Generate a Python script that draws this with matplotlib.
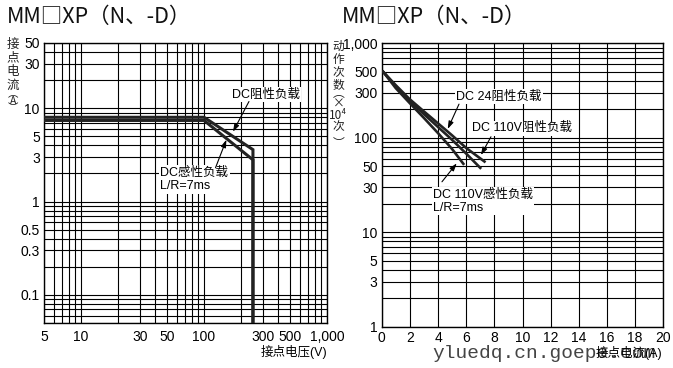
import matplotlib
matplotlib.use('Agg')
import matplotlib.pyplot as plt
from matplotlib.ticker import FixedLocator, NullFormatter, LogLocator, FixedFormatter

plt.rcParams['font.family'] = ['Liberation Sans', 'Noto Sans CJK SC']
plt.rcParams['axes.unicode_minus'] = False

# ---------------- left chart data (contact voltage vs contact current) -------------
volt_res = [5, 100, 250, 250]
amp_res = [8.0, 8.0, 3.6, 0.05]
volt_ind = [5, 100, 250, 250]
amp_ind = [7.4, 7.4, 2.8, 0.05]
left_xticks = [5, 10, 30, 50, 100, 300, 500, 1000]
left_xlabels = ['5', '10', '30', '50', '100', '300', '500', '1,000']
left_yticks = [0.1, 0.3, 0.5, 1, 3, 5, 10, 30, 50]
left_ylabels = ['0.1', '0.3', '0.5', '1', '3', '5', '10', '30', '50']

# ---------------- right chart data (contact current vs operations x10^4) -----------
cur_a = [0.1, 1, 2, 3, 4, 5, 6, 7.3]
ops_a = [500, 360, 255, 190, 142, 106, 78, 56]
cur_b = [0.1, 1, 2, 3, 4, 5, 6, 7.0]
ops_b = [500, 350, 245, 178, 130, 95, 68, 48]
cur_c = [0.1, 1, 2, 3, 4, 5, 5.8]
ops_c = [500, 335, 232, 162, 112, 76, 53]
right_xticks = [0, 2, 4, 6, 8, 10, 12, 14, 16, 18, 20]
right_yticks = [1, 3, 5, 10, 30, 50, 100, 300, 500, 1000]
right_ylabels = ['1', '3', '5', '10', '30', '50', '100', '300', '500', '1,000']

W, H = 673, 368
fig = plt.figure(figsize=(W / 100, H / 100), dpi=100)
fig.patch.set_facecolor('white')


def fx(px):
    return px / W


def fy(py):
    return 1 - py / H


axL = fig.add_axes([fx(44), fy(323), fx(327) - fx(44), fy(43) - fy(323)])
axR = fig.add_axes([fx(381.7), fy(326.7), fx(663.3) - fx(381.7), fy(43.3) - fy(326.7)])

for ax in (axL, axR):
    ax.set_facecolor('white')
    for s in ax.spines.values():
        s.set_linewidth(1.0)
        s.set_color('black')
    ax.tick_params(which='both', length=0, labelsize=10, colors='black')

# ---- left axes
axL.set_xscale('log')
axL.set_yscale('log')
axL.set_xlim(5, 1000)
axL.set_ylim(0.05, 50)
axL.xaxis.set_major_locator(FixedLocator(left_xticks))
axL.xaxis.set_major_formatter(FixedFormatter(left_xlabels))
axL.yaxis.set_major_locator(FixedLocator(left_yticks))
axL.yaxis.set_major_formatter(FixedFormatter(left_ylabels))
axL.xaxis.set_minor_locator(LogLocator(base=10, subs=range(1, 10), numticks=20))
axL.yaxis.set_minor_locator(LogLocator(base=10, subs=range(1, 10), numticks=20))
axL.xaxis.set_minor_formatter(NullFormatter())
axL.yaxis.set_minor_formatter(NullFormatter())
axL.grid(True, which='both', color='black', linewidth=0.8)
axL.tick_params(axis='x', pad=5)
axL.tick_params(axis='y', pad=3)

axL.plot(volt_res, amp_res, color='#222222', linewidth=2.2, solid_joinstyle='miter', zorder=3)
axL.plot(volt_ind, amp_ind, color='#222222', linewidth=2.2, solid_joinstyle='miter', zorder=3)

arrow_kw = dict(arrowstyle='-|>,head_length=0.45,head_width=0.15', color='black',
                linewidth=0.8, shrinkA=0, shrinkB=0)
tfont = dict(fontsize=9, color='black')
wbox = dict(facecolor='white', edgecolor='none', pad=1.0)

axL.text(318, 14, 'DC阻性负载', ha='center', va='center', bbox=wbox, zorder=5, **tfont)
axL.annotate('', xy=(172, 5.6), xytext=(232, 11.8), arrowprops=arrow_kw, zorder=5)
axL.text(44, 1.72, 'DC感性负载\nL/R=7ms', ha='left', va='center', linespacing=1.15,
         bbox=wbox, zorder=5, **tfont)
axL.annotate('', xy=(152, 4.6), xytext=(124, 2.3), arrowprops=arrow_kw, zorder=5)

# ---- right axes
axR.set_yscale('log')
axR.set_xlim(0, 20)
axR.set_ylim(1, 1000)
axR.xaxis.set_major_locator(FixedLocator(right_xticks))
axR.yaxis.set_major_locator(FixedLocator(right_yticks))
axR.yaxis.set_major_formatter(FixedFormatter(right_ylabels))
axR.yaxis.set_minor_locator(LogLocator(base=10, subs=range(1, 10), numticks=20))
axR.yaxis.set_minor_formatter(NullFormatter())
axR.grid(True, which='both', color='black', linewidth=0.8)
axR.tick_params(axis='x', pad=3)
axR.tick_params(axis='y', pad=3)

for xs, ys in ((cur_a, ops_a), (cur_b, ops_b), (cur_c, ops_c)):
    axR.plot(xs, ys, color='#222222', linewidth=1.9, zorder=3)

axR.text(5.3, 272, 'DC 24阻性负载', ha='left', va='center', bbox=wbox, zorder=5, **tfont)
axR.annotate('', xy=(4.69, 124), xytext=(5.49, 227), arrowprops=arrow_kw, zorder=5)
axR.text(6.39, 126, 'DC 110V阻性负载', ha='left', va='center', bbox=wbox, zorder=5, **tfont)
axR.annotate('', xy=(7.05, 65.6), xytext=(7.76, 102.5), arrowprops=arrow_kw, zorder=5)
axR.text(3.64, 21.3, 'DC 110V感性负载\nL/R=7ms', ha='left', va='center', linespacing=1.15,
         bbox=wbox, zorder=5, **tfont)
axR.annotate('', xy=(5.33, 53.6), xytext=(4.28, 34.2), arrowprops=arrow_kw, zorder=5)

# ---- titles
title_txt = 'MM□XP（N、-D）'
fig.text(fx(7), fy(17), title_txt, fontsize=15.5, ha='left', va='center', color='#111111',
         family=['Noto Sans CJK SC'])
fig.text(fx(342), fy(17), title_txt, fontsize=15.5, ha='left', va='center', color='#111111',
         family=['Noto Sans CJK SC'])

# ---- vertical axis labels (stacked characters)
cjk = ['Noto Sans CJK SC', 'DejaVu Sans']
fig.text(fx(13), fy(65), '接\n点\n电\n流', fontsize=9, ha='center', va='center',
         linespacing=1.05, family=cjk, color='#222222')
fig.text(fx(13), fy(101.5), '︵\nA\n︶', fontsize=7.5, ha='center', va='center',
         linespacing=0.6, family=cjk, color='#222222')

fig.text(fx(338.5), fy(66), '动\n作\n次\n数', fontsize=8.5, ha='center', va='center',
         linespacing=1.02, family=cjk, color='#222222')
fig.text(fx(338.5), fy(110), '︵\n×\n10⁴\n次', fontsize=8.5, ha='center', va='center',
         linespacing=0.82, family=cjk, color='#222222')
fig.text(fx(338.5), fy(144), '︶', fontsize=8.5, ha='center', va='center',
         family=cjk, color='#222222')

# ---- x-axis labels and watermark
fig.text(fx(327), fy(352), '接点电压(V)', fontsize=9, ha='right', va='center')
fig.text(fx(432), fy(354), 'yluedq.cn.goepe.com', fontsize=14, ha='left', va='center',
         family='Liberation Mono', color='#444444')
fig.text(fx(662), fy(353), '接点电流(A)', fontsize=9, ha='right', va='center')

fig.savefig('out.png', dpi=100, facecolor='white')
